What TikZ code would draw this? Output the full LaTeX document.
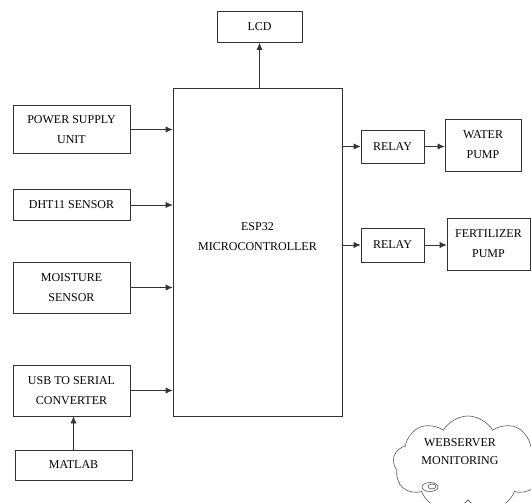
\documentclass[tikz,border=0pt]{standalone}
\usepackage{fontspec}
\setmainfont{Liberation Serif}
\usetikzlibrary{arrows.meta, shapes.symbols}

\begin{document}
\begin{tikzpicture}[x=1pt, y=-1pt, line width=0.6pt, draw=black!80,
    block/.style={draw, fill=white, align=center, inner sep=0pt, font=\fontsize{12}{20}\selectfont},
    link/.style={-{Latex[length=7pt,width=6pt]}}]
    \clip (0,0) rectangle (531,503);

    % Draw nodes
    \node[block, minimum width=85pt, minimum height=31pt] (lcd) at (259.5,27) {LCD};
    \node[block, minimum width=169pt, minimum height=328pt] (esp) at (257.5,252) {};
    \node[align=center, font=\fontsize{12}{20}\selectfont] (esplabel) at ([yshift=15pt]esp.center) {ESP32\\MICROCONTROLLER};
    \node[block, minimum width=117pt, minimum height=48pt] (psu) at (71.5,129.5) {POWER SUPPLY\\UNIT};
    \node[block, minimum width=117pt, minimum height=31pt] (dht) at (71.5,205) {DHT11 SENSOR};
    \node[block, minimum width=117pt, minimum height=51pt] (moist) at (71.5,287.5) {MOISTURE\\SENSOR};
    \node[block, minimum width=117pt, minimum height=51pt] (usb) at (71.5,390.5) {USB TO SERIAL\\CONVERTER};
    \node[block, minimum width=117pt, minimum height=30pt] (matlab) at (73.5,465) {MATLAB};
    \node[block, minimum width=63pt, minimum height=33pt] (relay1) at (392.5,146.5) {RELAY};
    \node[block, minimum width=76pt, minimum height=52pt] (water) at (483,145) {WATER\\PUMP};
    \node[block, minimum width=63pt, minimum height=34pt] (relay2) at (392.5,245) {RELAY};
    \node[block, minimum width=83pt, minimum height=52pt] (fert) at (488.5,244) {FERTILIZER\\PUMP};

    % Cloud
    \node[cloud, draw=black!65, cloud puffs=9, cloud puff arc=120, aspect=1.6,
          minimum width=150pt, minimum height=96pt] (web) at (468,464) {};
    \node[align=center, font=\fontsize{12}{18}\selectfont] (webtext) at (460,452) {WEBSERVER\\MONITORING};
    \draw[black!65] (430,487) ellipse (8pt and 4.5pt);
    \draw[black!65] (432,486.5) ellipse (4pt and 2.5pt);

    % Draw connections
    \draw[link] (lcd.south |- esp.north) -- (lcd.south);
    \draw[link] (psu.east) -- (psu.east -| esp.west);
    \draw[link] (dht.east) -- (dht.east -| esp.west);
    \draw[link] (moist.east) -- (moist.east -| esp.west);
    \draw[link] (usb.east) -- (usb.east -| esp.west);
    \draw[link] (matlab.north) -- (usb.south -| matlab.north);
    \draw[link] (relay1.west -| esp.east) -- (relay1.west);
    \draw[link] (relay2.west -| esp.east) -- (relay2.west);
    \draw[link] (relay1.east) -- (relay1.east -| water.west);
    \draw[link] (relay2.east) -- (relay2.east -| fert.west);
\end{tikzpicture}
\end{document}
